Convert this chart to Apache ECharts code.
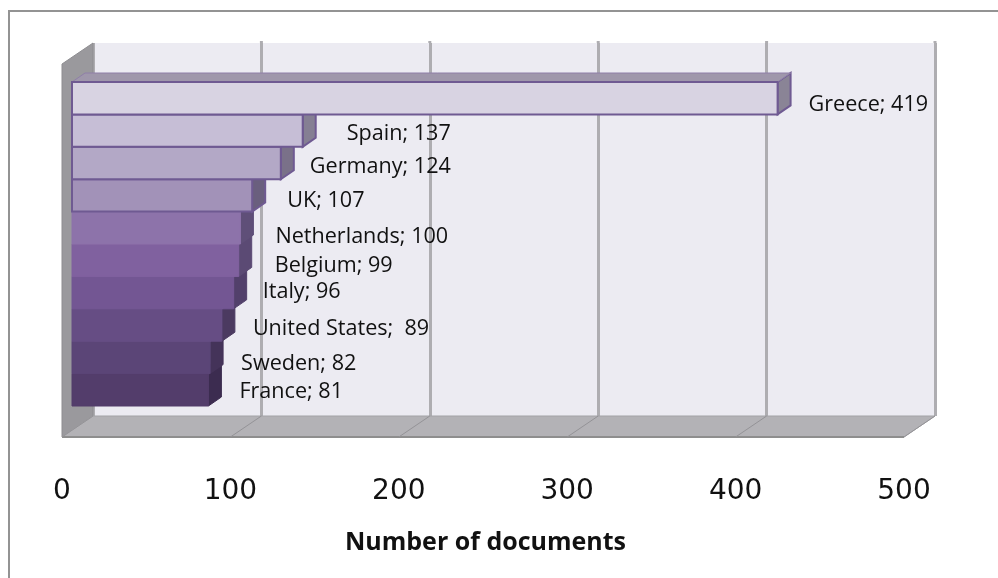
<!DOCTYPE html>
<html>
<head>
<meta charset="utf-8">
<title>Number of documents</title>
<script src="https://cdn.jsdelivr.net/npm/echarts@6/dist/echarts.min.js"></script>
<style>
html, body { margin: 0; padding: 0; background: #fff; }
#frame { position: absolute; left: 8px; top: 10px; width: 990px; height: 568px; box-sizing: border-box;
         border-left: 2px solid #939393; border-top: 2px solid #939393; }
#main { position: absolute; left: 0; top: 0; width: 998px; height: 578px; }
</style>
</head>
<body>
<div id="frame"></div>
<div id="main"></div>
<script>
// bottom bar first, so that the upper bars cover the sides of the lower ones
var categories = ['France', 'Sweden', 'United States', 'Italy', 'Belgium', 'Netherlands', 'UK', 'Germany', 'Spain', 'Greece'];
var docs = [81, 82, 89, 96, 99, 100, 107, 124, 137, 419];
var xTicks = [0, 100, 200, 300, 400, 500];

var barColors = ['#533d6b', '#5b4577', '#664d84', '#735693', '#80619f', '#8d73aa', '#a292b8', '#b3a8c6', '#c6bed6', '#d8d3e2'];
var sideColors = ['#3c2c50', '#443359', '#4b3a60', '#52406b', '#5b4a74', '#5f4f78', '#6a5f7e', '#7a7189', '#857f93', '#8a8496'];
// label position by hand, same as the chart it comes from: left edge (px from bar end), centre (px from band centre)
var labelDx = [41, 41, 41, 39, 46, 45, 45, 39, 54, 41];
var labelDy = [2, 6, 4, -1, 6, 9, 5, 4, 3, 7];

var DEPTH = [31, -21];     // floor/wall depth in px
var BAR_FRONT = [10, 0];   // bars stand a little behind the front of the floor
var BAR_DEPTH = [13, -9];

var myChart = echarts.init(document.getElementById('main'), null, {renderer: 'canvas'});

// floor and left wall, drawn from the back wall axis
function renderRoom(params, api) {
    var tick = api.value(0);
    var p = api.coord([tick, 0]);
    var children = [];
    if (params.dataIndex == 0) {
        var top = api.coord([0, 1]);
        var right = api.coord([xTicks[xTicks.length - 1], 0]);
        children.push({
            type: 'polygon',
            shape: {points: [top, p, [p[0] - DEPTH[0], p[1] - DEPTH[1]], [top[0] - DEPTH[0], top[1] - DEPTH[1]]]},
            style: {fill: '#9a999d', stroke: '#8e8d91', lineWidth: 1}
        });
        children.push({
            type: 'polygon',
            shape: {points: [p, right, [right[0] - DEPTH[0], right[1] - DEPTH[1]], [p[0] - DEPTH[0], p[1] - DEPTH[1]]]},
            style: {fill: '#b3b2b6', stroke: '#a3a2a6', lineWidth: 1}
        });
        children.push({
            type: 'line',
            shape: {x1: p[0] - DEPTH[0], y1: p[1] - DEPTH[1], x2: right[0] - DEPTH[0], y2: right[1] - DEPTH[1]},
            style: {stroke: '#8e8e8e', lineWidth: 2}
        });
    }
    children.push({
        type: 'line',
        shape: {x1: p[0], y1: p[1], x2: p[0] - DEPTH[0], y2: p[1] - DEPTH[1]},
        style: {stroke: '#949397', lineWidth: 1}
    });
    // gridlines stick out a little above the wall
    if (tick > 0) {
        var t = api.coord([tick, 1]);
        children.push({
            type: 'line',
            shape: {x1: t[0], y1: t[1], x2: t[0], y2: t[1] - 2},
            style: {stroke: '#aeadb1', lineWidth: 3}
        });
    }
    return {type: 'group', children: children};
}

function renderBar(params, api) {
    var i = params.dataIndex;
    var v = api.value(0);
    var band = api.size([0, 1])[1];
    var c0 = api.coord([0, i]);
    var c1 = api.coord([v, i]);
    var x0 = c0[0] + BAR_FRONT[0];
    var x1 = c1[0] + BAR_FRONT[0];
    var yTop = c1[1] - band / 2;
    var yBot = c1[1] + band / 2;
    var dx = BAR_DEPTH[0], dy = BAR_DEPTH[1];
    // the lower bars have soft edges in the original, the rest a purple outline
    var stroke = i >= 6 ? '#6f5a92' : barColors[i];
    var lw = i >= 6 ? 2 : 1;
    var children = [
        {
            type: 'polygon',
            shape: {points: [[x1, yTop], [x1 + dx, yTop + dy], [x1 + dx, yBot + dy], [x1, yBot]]},
            style: {fill: sideColors[i], stroke: i >= 6 ? '#6f5a92' : sideColors[i], lineWidth: lw}
        },
        {
            type: 'polygon',
            shape: {points: [[x0, yTop], [x0 + dx, yTop + dy], [x1 + dx, yTop + dy], [x1, yTop]]},
            style: {fill: '#9f97ab', stroke: '#8f7fa8', lineWidth: 1}
        },
        {
            type: 'rect',
            shape: {x: x0, y: yTop, width: x1 - x0, height: band},
            style: {fill: barColors[i], stroke: stroke, lineWidth: lw}
        }
    ];
    return {type: 'group', children: children};
}

function renderLabel(params, api) {
    var i = params.dataIndex;
    var c = api.coord([api.value(0), i]);
    var gap = categories[i] == 'United States' ? ';  ' : '; ';
    return {
        type: 'text',
        x: c[0] + labelDx[i],
        y: c[1] + labelDy[i],
        style: {
            text: categories[i] + gap + docs[i],
            fill: '#111',
            font: '21.6px "Open Sans"',
            align: 'left',
            verticalAlign: 'middle'
        }
    };
}

var option = {
    animation: false,
    backgroundColor: 'transparent',
    grid: [
        // back wall
        {left: 93, top: 43, width: 842, height: 373, show: true, backgroundColor: '#ecebf2', borderWidth: 0},
        // front of the room, carries the bars and the visible axis
        {left: 62, top: 82, width: 842, height: 324}
    ],
    xAxis: [
        {
            gridIndex: 0, type: 'value', min: 0, max: 500, interval: 100,
            axisLine: {show: false}, axisTick: {show: false}, axisLabel: {show: false},
            splitLine: {show: true, lineStyle: {color: '#aeadb1', width: 3}}
        },
        {
            gridIndex: 1, type: 'value', min: 0, max: 500, interval: 100,
            axisLine: {show: false}, axisTick: {show: false}, splitLine: {show: false},
            axisLabel: {
                margin: 72, color: '#111',
                fontSize: 28, fontFamily: 'DejaVu Sans'
            },
            name: 'Number of documents',
            nameLocation: 'middle',
            nameGap: 124,
            nameTextStyle: {color: '#111', fontSize: 25, fontWeight: 'bold', fontFamily: 'Open Sans', padding: [0, 0, 0, 5]}
        }
    ],
    yAxis: [
        {gridIndex: 0, type: 'value', min: 0, max: 1, show: false, splitLine: {show: false}},
        {gridIndex: 1, type: 'category', data: categories, show: false}
    ],
    series: [
        {
            type: 'custom', xAxisIndex: 0, yAxisIndex: 0, z: 2,
            data: xTicks, encode: {x: 0}, renderItem: renderRoom, silent: true
        },
        {
            type: 'custom', xAxisIndex: 1, yAxisIndex: 1, z: 3,
            data: docs, encode: {x: 0}, renderItem: renderBar
        },
        {
            type: 'custom', xAxisIndex: 1, yAxisIndex: 1, z: 4,
            data: docs, encode: {x: 0}, renderItem: renderLabel, silent: true
        }
    ]
};
myChart.setOption(option);
</script>
</body>
</html>
